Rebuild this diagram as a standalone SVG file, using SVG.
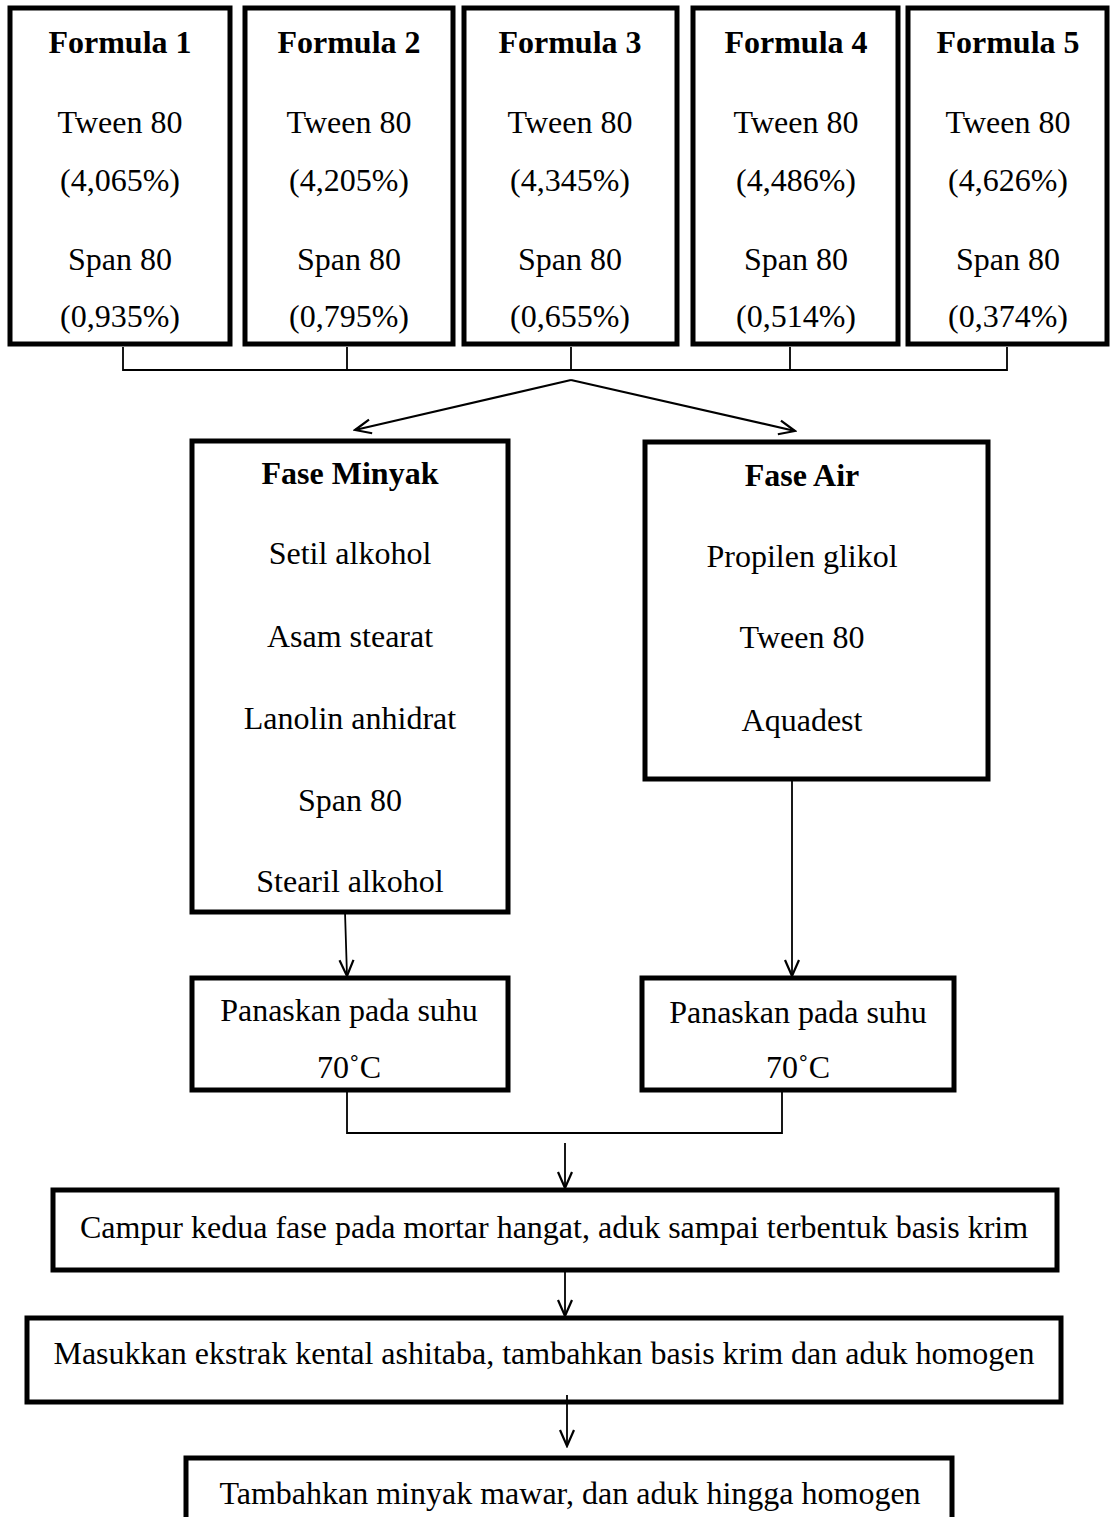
<svg xmlns="http://www.w3.org/2000/svg" width="1113" height="1517" viewBox="0 0 1113 1517">
<style>
.box{fill:#fff;stroke:#000;stroke-width:5}
.t{font-family:"Liberation Serif","Times New Roman",serif;font-size:32px;fill:#000;text-anchor:middle}
.b{font-weight:bold}
.ln{fill:none;stroke:#000;stroke-width:1.8}
.ar{fill:none;stroke:#000;stroke-width:2.2}
</style>
<defs>
<marker id="v" viewBox="0 0 20 20" refX="18" refY="10" markerWidth="20" markerHeight="20" markerUnits="userSpaceOnUse" orient="auto">
<path d="M2,3 L18,10 L2,17" fill="none" stroke="#000" stroke-width="2.2"/>
</marker>
</defs>
<rect width="1113" height="1517" fill="#fff"/>
<g id="formula1">
<rect class="box" x="10" y="8" width="220" height="336"/>
<text class="t b" x="120" y="53">Formula 1</text>
<text class="t" x="120" y="133">Tween 80</text>
<text class="t" x="120" y="191">(4,065%)</text>
<text class="t" x="120" y="270">Span 80</text>
<text class="t" x="120" y="327">(0,935%)</text>
</g>
<g id="formula2">
<rect class="box" x="245" y="8" width="208" height="336"/>
<text class="t b" x="349" y="53">Formula 2</text>
<text class="t" x="349" y="133">Tween 80</text>
<text class="t" x="349" y="191">(4,205%)</text>
<text class="t" x="349" y="270">Span 80</text>
<text class="t" x="349" y="327">(0,795%)</text>
</g>
<g id="formula3">
<rect class="box" x="464" y="8" width="213" height="336"/>
<text class="t b" x="570" y="53">Formula 3</text>
<text class="t" x="570" y="133">Tween 80</text>
<text class="t" x="570" y="191">(4,345%)</text>
<text class="t" x="570" y="270">Span 80</text>
<text class="t" x="570" y="327">(0,655%)</text>
</g>
<g id="formula4">
<rect class="box" x="693" y="8" width="205" height="336"/>
<text class="t b" x="796" y="53">Formula 4</text>
<text class="t" x="796" y="133">Tween 80</text>
<text class="t" x="796" y="191">(4,486%)</text>
<text class="t" x="796" y="270">Span 80</text>
<text class="t" x="796" y="327">(0,514%)</text>
</g>
<g id="formula5">
<rect class="box" x="908" y="8" width="199" height="336"/>
<text class="t b" x="1008" y="53">Formula 5</text>
<text class="t" x="1008" y="133">Tween 80</text>
<text class="t" x="1008" y="191">(4,626%)</text>
<text class="t" x="1008" y="270">Span 80</text>
<text class="t" x="1008" y="327">(0,374%)</text>
</g>
<g id="faseMinyak">
<rect class="box" x="192" y="441" width="316" height="471"/>
<text class="t b" x="350" y="484">Fase Minyak</text>
<text class="t" x="350" y="564">Setil alkohol</text>
<text class="t" x="350" y="647">Asam stearat</text>
<text class="t" x="350" y="729">Lanolin anhidrat</text>
<text class="t" x="350" y="811">Span 80</text>
<text class="t" x="350" y="892">Stearil alkohol</text>
</g>
<g id="faseAir">
<rect class="box" x="645" y="442" width="343" height="337"/>
<text class="t b" x="802" y="486">Fase Air</text>
<text class="t" x="802" y="567">Propilen glikol</text>
<text class="t" x="802" y="648">Tween 80</text>
<text class="t" x="802" y="731">Aquadest</text>
</g>
<g id="panasMinyak">
<rect class="box" x="192" y="978" width="316" height="112"/>
<text class="t" x="349" y="1021">Panaskan pada suhu</text>
<text class="t" x="349" y="1078">70˚C</text>
</g>
<g id="panasAir">
<rect class="box" x="642" y="978" width="312" height="112"/>
<text class="t" x="798" y="1023">Panaskan pada suhu</text>
<text class="t" x="798" y="1078">70˚C</text>
</g>
<g id="campur">
<rect class="box" x="53" y="1190" width="1004" height="80"/>
<text class="t" x="554" y="1238">Campur kedua fase pada mortar hangat, aduk sampai terbentuk basis krim</text>
</g>
<g id="masukkan">
<rect class="box" x="27" y="1318" width="1034" height="84"/>
<text class="t" x="544" y="1364">Masukkan ekstrak kental ashitaba, tambahkan basis krim dan aduk homogen</text>
</g>
<g id="tambahkan">
<rect class="box" x="186" y="1458" width="766" height="80"/>
<text class="t" x="570" y="1504">Tambahkan minyak mawar, dan aduk hingga homogen</text>
</g>
<g id="connectors">
<path class="ln" d="M123,347 V370 H1007 V347 M347,347 V370 M571,347 V370 M790,347 V370"/>
<line class="ar" x1="571" y1="380" x2="355" y2="430" marker-end="url(#v)"/>
<line class="ar" x1="571" y1="380" x2="795" y2="431" marker-end="url(#v)"/>
<line class="ln" x1="345" y1="912" x2="347" y2="976" marker-end="url(#v)"/>
<line class="ln" x1="792" y1="779" x2="792" y2="976" marker-end="url(#v)"/>
<path class="ln" d="M347,1092 V1133 H782 V1092"/>
<line class="ln" x1="565" y1="1143" x2="565" y2="1188" marker-end="url(#v)"/>
<line class="ln" x1="565" y1="1270" x2="565" y2="1316" marker-end="url(#v)"/>
<line class="ln" x1="567" y1="1395" x2="567" y2="1446" marker-end="url(#v)"/>
</g>
</svg>
